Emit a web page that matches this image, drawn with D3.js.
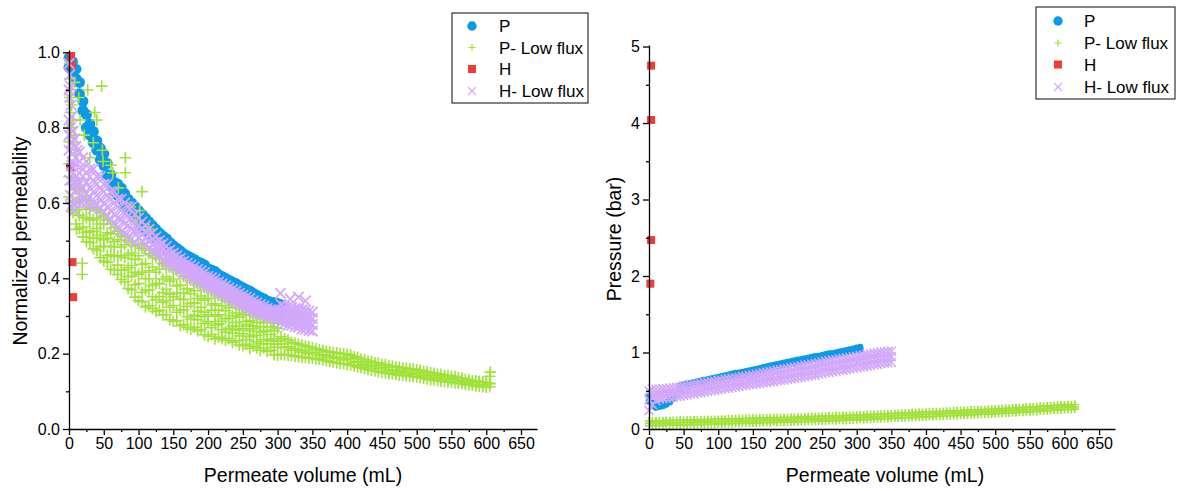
<!DOCTYPE html>
<html>
<head>
<meta charset="utf-8">
<script src="https://cdn.jsdelivr.net/npm/d3@7"></script>
<style>
  body { margin: 0; background: #fff; }
  svg { font-family: "Liberation Sans", Arial, sans-serif; }
</style>
</head>
<body>
<script>
// ---------- data ----------
var seriesNames = ["P", "P- Low flux", "H", "H- Low flux"];
var xTicks = [0, 50, 100, 150, 200, 250, 300, 350, 400, 450, 500, 550, 600, 650];
var xMinor = [25, 75, 125, 175, 225, 275, 325, 375, 425, 475, 525, 575, 625];
var permTicks = [0, 0.2, 0.4, 0.6, 0.8, 1.0];
var permMinor = [0.1, 0.3, 0.5, 0.7, 0.9];
var presTicks = [0, 1, 2, 3, 4, 5];
var presMinor = [0.5, 1.5, 2.5, 3.5, 4.5];

// left: normalized permeability
var lbX = [0,5,10,15,20,25,30,35,40,45,50,55,60,65,70,75,80,85,90,95,100,105,110,115,120,125,130,135,140,145,150,155,160,165,170,175,180,185,190,195,200,205,210,215,220,225,230,235,240,245,250,255,260,265,270,275,280,285,290,295,300,305];
var lbTop = [.985,.975,.955,.92,.87,.835,.81,.79,.765,.745,.73,.705,.675,.655,.65,.64,.625,.61,.60,.59,.58,.57,.56,.55,.54,.53,.52,.512,.505,.495,.487,.48,.473,.465,.46,.455,.45,.444,.44,.435,.425,.422,.418,.41,.405,.40,.395,.39,.386,.38,.375,.37,.366,.36,.355,.35,.346,.34,.337,.336,.333,.33];
var lbLow = [.96,.95,.93,.89,.845,.80,.78,.76,.74,.715,.70,.675,.645,.63,.62,.61,.595,.585,.57,.56,.55,.54,.53,.52,.51,.50,.49,.485,.475,.465,.46,.45,.445,.44,.43,.425,.42,.415,.41,.405,.40,.39,.385,.38,.375,.37,.365,.36,.355,.35,.345,.34,.335,.33,.325,.32,.315,.31,.31,.305,.30,.30];

var lgX = [0,5,10,15,20,25,30,35,40,45,50,55,60,65,70,75,80,85,90,95,100,105,110,115,120,125,130,135,140,145,150,155,160,165,170,175,180,185,190,195,200,205,210,215,220,225,230,235,240,245,250,255,260,265,270,275,280,285,290,295,300,305,310,315,320,325,330,335,340,345,350,355,360,365,370,375,380,385,390,395,400,405,410,415,420,425,430,435,440,445,450,455,460,465,470,475,480,485,490,495,500,505,510,515,520,525,530,535,540,545,550,555,560,565,570,575,580,585,590,595,600,605];
var lgHi = [.80,.70,.66,.64,.63,.615,.605,.59,.585,.575,.565,.555,.545,.535,.525,.515,.51,.50,.495,.485,
  .49,.48,.475,.465,.46,.455,.45,.44,.435,.43,.425,.42,.415,.405,.40,.395,.39,.385,.38,.375,.37,.365,.36,.355,.35,.345,.34,.335,.33,.325,.32,.315,.31,.305,.30,.297,.295,.29,.29,.285,.28,
  .245,.24,.236,.23,.228,.225,.223,.22,.218,.215,.213,.21,.209,.206,.205,.203,.202,.20,.20,.198,.196,.192,.19,.186,.184,.18,.179,.176,.175,.172,.171,.168,.167,.165,.164,.162,.161,.159,.159,.157,.156,.153,.152,.149,.148,.145,.145,.142,.142,.14,.139,.136,.135,.132,.131,.128,.128,.126,.125,.123,.121];
var lgQ3 = [.763,.665,.635,.604,.606,.583,.586,.556,.56,.544,.544,.521,.518,.497,.502,.483,.489,.462,.467,.451,.46,.437,.439,.42,.43,.416,.424,.398,.404,.393,.398,.38,.382,.362,.372,.359,.367,.346,.353,.342,.347,.329,.332,.316,.327,.314,.322,.301,.308,.297,.303,.285,.288,.273,.283,.271,.282,.261,.271,.261,.267];
var lgMid = [.704,.649,.602,.59,.562,.56,.555,.525,.532,.514,.502,.507,.485,.483,.46,.46,.455,.428,.434,.416,.411,.416,.399,.399,.381,.386,.386,.362,.371,.358,.351,.361,.344,.344,.326,.333,.334,.313,.323,.31,.303,.315,.299,.303,.286,.293,.294,.273,.283,.272,.266,.277,.261,.266,.249,.256,.259,.238,.251,.239,.233,
  .226,.216,.218,.209,.213,.209,.204,.209,.20,.203,.203,.195,.198,.19,.195,.19,.187,.191,.183,.186,.187,.177,.179,.171,.175,.169,.165,.169,.16,.162,.164,.155,.158,.151,.156,.152,.148,.154,.145,.148,.15,.141,.144,.136,.141,.137,.133,.138,.13,.133,.134,.125,.129,.121,.126,.122,.118,.124,.115,.118,.12];
var lgQ1 = [.67,.602,.581,.567,.536,.522,.525,.506,.507,.484,.484,.461,.462,.458,.435,.422,.422,.404,.406,.383,.386,.363,.369,.369,.351,.343,.351,.336,.341,.323,.328,.31,.316,.316,.298,.292,.302,.29,.298,.28,.285,.269,.276,.279,.263,.257,.267,.255,.263,.247,.253,.237,.245,.248,.232,.226,.237,.226,.234,.217,.225];
var lgLo = [.616,.583,.544,.532,.51,.497,.495,.478,.474,.455,.446,.443,.424,.422,.41,.397,.39,.373,.369,.35,.341,.338,.324,.327,.32,.312,.315,.303,.304,.29,.286,.288,.274,.277,.27,.265,.27,.26,.264,.25,.246,.251,.239,.244,.24,.235,.24,.23,.234,.223,.221,.225,.214,.22,.215,.209,.215,.206,.209,.197,.196,
  .198,.197,.196,.195,.193,.192,.19,.19,.188,.188,.186,.185,.183,.181,.179,.177,.176,.174,.173,.172,.17,.168,.165,.163,.16,.158,.156,.154,.152,.15,.149,.147,.146,.145,.143,.142,.141,.14,.139,.138,.137,.135,.133,.131,.13,.128,.127,.126,.125,.124,.122,.121,.12,.118,.117,.116,.114,.113,.112,.111,.112];
var lgOutX = [1,2,3,1,4,2,6,3,8,5,10,27,47,37,16,40,22,35,48,49,30,63,71,81,81,88,102,105,127,6,11,19,19,60,95,115,606,605,14,8];
var lgOutY = [.97,.93,.90,.88,.86,.84,.82,.80,.78,.76,.74,.90,.91,.84,.82,.82,.78,.76,.74,.71,.72,.68,.64,.72,.68,.59,.58,.63,.49,.575,.53,.44,.41,.70,.55,.53,.151,.14,.88,.92];

var lhX = [3, 4, 2, 5, 6];
var lhY = [0.99, 0.965, 0.695, 0.443, 0.35];

var lpX = [0,5,10,15,20,25,30,35,40,45,50,55,60,65,70,75,80,85,90,95,100,105,110,115,120,125,130,135,140,145,150,155,160,165,170,175,180,185,190,195,200,205,210,215,220,225,230,235,240,245,250,255,260,265,270,275,280,285,290,295,300,305,310,315,320,325,330,335,340,345,350];
var lpTop = [.90,.79,.75,.735,.72,.71,.69,.69,.67,.67,.65,.65,.63,.63,.61,.61,.60,.59,.59,.57,
  .56,.55,.54,.53,.52,.51,.50,.492,.485,.475,.467,.46,.453,.445,.44,.435,.43,.424,.42,.415,.405,.402,.398,.39,.385,.38,.375,.37,.366,.36,.355,.35,.346,.34,.335,.33,.326,.32,.317,.316,.313,
  .33,.325,.325,.322,.32,.318,.316,.315,.313,.31];
var lpM1 = [.82,.76,.72,.71,.69,.68,.67,.66,.65,.64,.63,.62,.61,.60,.59,.58,.57,.565,.56,.55,
  .541,.531,.524,.513,.505,.496,.488,.477,.471,.463,.456,.449,.443,.434,.429,.424,.419,.414,.409,.404,.396,.392,.388,.381,.376,.371,.366,.361,.357,.351,.346,.341,.337,.331,.326,.322,.318,.313,.311,.308,.305,
  .314,.31,.308,.306,.304,.302,.299,.298,.296,.293];
var lpM2 = [.78,.73,.70,.68,.67,.655,.64,.63,.62,.61,.60,.59,.58,.57,.56,.555,.545,.54,.53,.525,
  .525,.515,.508,.497,.49,.483,.476,.463,.457,.45,.444,.439,.433,.424,.419,.414,.409,.403,.399,.394,.387,.383,.378,.372,.367,.362,.357,.352,.347,.342,.337,.332,.327,.322,.317,.313,.311,.305,.304,.301,.296,
  .298,.295,.292,.291,.288,.286,.282,.282,.279,.277];
var lpBot = [.74,.70,.67,.655,.64,.625,.615,.60,.595,.585,.575,.565,.555,.545,.535,.525,.52,.51,.505,.495,
  .508,.498,.492,.481,.475,.469,.463,.448,.443,.438,.433,.428,.423,.413,.408,.403,.398,.393,.388,.383,.378,.373,.368,.363,.358,.353,.348,.343,.338,.333,.328,.323,.318,.313,.308,.305,.303,.298,.298,.293,.288,
  .282,.28,.275,.275,.272,.27,.265,.265,.262,.26];
var lpExX = [0,1,2,1,3,4,2,6,8,3,12,5,304,340,318,330,1,2,3,5,6,8,10,12,15,18,20,25,30,35,4,7,9,13];
var lpExY = [.97,.94,.91,.88,.86,.83,.80,.79,.77,.76,.74,.71,.36,.34,.345,.35,.66,.62,.59,.64,.60,.58,.63,.60,.62,.60,.615,.60,.595,.585,.70,.68,.655,.645];

// right: pressure (bar)
var rbX = [0,5,10,15,20,25,30,35,40,45,50,55,60,65,70,75,80,85,90,95,100,105,110,115,120,125,130,135,140,145,150,155,160,165,170,175,180,185,190,195,200,205,210,215,220,225,230,235,240,245,250,255,260,265,270,275,280,285,290,295,300,305];
var rbHi = [.42,.34,.31,.31,.33,.35,.38,.44,.50,.56,.58,.59,.60,.61,.62,.63,.64,.65,.66,.67,.68,.69,.70,.71,.72,.73,.735,.745,.755,.765,.775,.785,.795,.805,.815,.825,.835,.845,.855,.865,.875,.885,.895,.905,.91,.92,.93,.94,.95,.955,.965,.975,.985,.99,1.0,1.01,1.02,1.03,1.04,1.05,1.06,1.07];
var rbLo = [.36,.30,.28,.29,.30,.32,.35,.40,.46,.52,.55,.56,.57,.58,.59,.60,.61,.62,.63,.64,.65,.66,.67,.68,.69,.70,.705,.715,.725,.735,.745,.755,.765,.775,.785,.795,.805,.815,.825,.835,.845,.855,.865,.875,.88,.89,.90,.91,.92,.925,.935,.945,.955,.96,.97,.98,.99,1.0,1.01,1.02,1.03,1.04];

var rgX = [0,5,10,15,20,25,30,35,40,45,50,55,60,65,70,75,80,85,90,95,100,105,110,115,120,125,130,135,140,145,150,155,160,165,170,175,180,185,190,195,200,205,210,215,220,225,230,235,240,245,250,255,260,265,270,275,280,285,290,295,300,305,310,315,320,325,330,335,340,345,350,355,360,365,370,375,380,385,390,395,400,405,410,415,420,425,430,435,440,445,450,455,460,465,470,475,480,485,490,495,500,505,510,515,520,525,530,535,540,545,550,555,560,565,570,575,580,585,590,595,600,605,610,615];
var rgHi = [.105,.106,.104,.108,.107,.11,.109,.112,.111,.114,.115,.113,.117,.12,.118,.121,.12,.124,.122,.125,.125,.128,.127,.131,.13,.134,.133,.137,.136,.14,.14,.141,.143,.142,.145,.144,.147,.146,.149,.148,.15,.153,.152,.155,.155,.158,.158,.161,.161,.164,.165,.166,.169,.168,.172,.171,.175,.174,.178,.177,.18,.183,.183,.187,.187,.19,.193,.193,.197,.197,.20,.203,.203,.207,.207,.21,.213,.213,.217,.217,.22,.223,.223,.227,.227,.23,.233,.233,.237,.237,.24,.243,.243,.247,.247,.25,.253,.253,.257,.257,.26,.264,.264,.269,.269,.274,.274,.279,.279,.284,.285,.289,.29,.295,.296,.30,.302,.307,.308,.313,.315,.318,.316,.32];
var rgMid = [.075,.076,.076,.078,.077,.08,.079,.081,.082,.082,.085,.085,.087,.087,.09,.089,.091,.092,.092,.095,.095,.096,.099,.099,.101,.102,.104,.105,.107,.108,.11,.11,.113,.112,.115,.114,.117,.116,.119,.118,.12,.123,.122,.125,.125,.128,.128,.13,.132,.132,.135,.136,.137,.14,.14,.143,.143,.146,.146,.149,.15,.153,.153,.157,.157,.16,.163,.163,.167,.167,.17,.173,.173,.177,.177,.18,.183,.183,.187,.187,.19,.193,.193,.197,.197,.20,.203,.203,.207,.207,.21,.213,.213,.217,.217,.22,.223,.223,.227,.227,.23,.234,.234,.239,.239,.244,.244,.249,.249,.254,.255,.259,.26,.265,.266,.27,.272,.277,.278,.283,.285,.288,.286,.29];
var rgLo = [.045,.046,.046,.048,.047,.05,.049,.051,.052,.052,.055,.055,.057,.057,.06,.059,.061,.062,.062,.065,.065,.066,.069,.069,.071,.072,.074,.075,.077,.078,.08,.08,.083,.082,.085,.084,.087,.086,.089,.088,.09,.093,.092,.095,.095,.098,.098,.10,.102,.102,.105,.106,.107,.11,.11,.113,.113,.116,.116,.119,.12,.123,.123,.127,.127,.13,.133,.133,.137,.137,.14,.143,.143,.147,.147,.15,.153,.153,.157,.157,.16,.163,.163,.167,.167,.17,.173,.173,.177,.177,.18,.183,.183,.187,.187,.19,.193,.193,.197,.197,.20,.204,.204,.209,.209,.214,.214,.219,.219,.224,.225,.229,.23,.235,.236,.24,.242,.247,.248,.253,.255,.258,.256,.26];

var rhX = [3, 3, 3, 2];
var rhY = [4.75, 4.04, 2.47, 1.9];

var rpX = [0,5,10,15,20,25,30,35,40,45,50,55,60,65,70,75,80,85,90,95,100,105,110,115,120,125,130,135,140,145,150,155,160,165,170,175,180,185,190,195,200,205,210,215,220,225,230,235,240,245,250,255,260,265,270,275,280,285,290,295,300,305,310,315,320,325,330,335,340,345,350];
var rpHi = [.50,.52,.52,.52,.525,.53,.535,.54,.545,.55,.56,.565,.575,.58,.59,.595,.605,.61,.62,.625,.635,.64,.65,.655,.66,.67,.675,.685,.69,.70,.705,.715,.725,.735,.74,.75,.76,.77,.775,.785,.79,.80,.805,.815,.825,.835,.84,.85,.855,.865,.875,.885,.89,.90,.905,.915,.92,.93,.935,.945,.95,.96,.965,.975,.98,.99,.995,1.005,1.01,1.015,1.02];
var rpMid = [.38,.42,.44,.45,.46,.465,.47,.475,.485,.49,.50,.505,.515,.52,.53,.535,.545,.55,.56,.565,.575,.58,.59,.595,.60,.61,.615,.625,.63,.64,.645,.655,.66,.67,.675,.685,.69,.70,.705,.715,.72,.73,.735,.745,.75,.76,.765,.775,.78,.79,.80,.81,.815,.825,.83,.84,.845,.855,.86,.87,.875,.885,.89,.90,.905,.915,.92,.93,.935,.94,.945];
var rpLo = [.24,.32,.37,.39,.40,.405,.41,.415,.425,.43,.44,.445,.455,.46,.47,.475,.485,.49,.50,.505,.515,.52,.53,.535,.54,.55,.555,.565,.57,.58,.585,.59,.595,.605,.61,.615,.62,.63,.635,.64,.65,.655,.66,.67,.675,.685,.69,.70,.705,.715,.725,.735,.74,.75,.755,.765,.77,.78,.785,.795,.80,.81,.815,.825,.83,.84,.845,.855,.86,.865,.87];

// ---------- styling ----------
var colors = { P: "#0b9aea", PL: "#a0e23a", H: "#f23c3c", HL: "#d2a8fb" };

var width = 1178, height = 491;
var svg = d3.select("body").append("svg").attr("width", width).attr("height", height);

function zip(xs, ys) {
  return ys.map(function(y, i) { return [xs[i], y]; });
}

function plusPath(s) { return "M" + (-s) + ",0H" + s + "M0," + (-s) + "V" + s; }
function timesPath(s) { return "M" + (-s) + "," + (-s) + "L" + s + "," + s + "M" + (-s) + "," + s + "L" + s + "," + (-s); }

// draws one set of markers
function markers(g, pts, kind, size, color, sw, x, y) {
  var sel = g.append("g").selectAll("path").data(pts).enter();
  if (kind == "circle") {
    sel.append("circle").attr("cx", function(d){ return x(d[0]); }).attr("cy", function(d){ return y(d[1]); })
      .attr("r", size).attr("fill", color);
  } else if (kind == "square") {
    sel.append("rect").attr("x", function(d){ return x(d[0]) - size/2; }).attr("y", function(d){ return y(d[1]) - size/2; })
      .attr("width", size).attr("height", size).attr("fill", color);
  } else {
    var p = kind == "plus" ? plusPath(size) : timesPath(size);
    sel.append("path").attr("d", p)
      .attr("transform", function(d){ return "translate(" + x(d[0]) + "," + y(d[1]) + ")"; })
      .attr("fill", "none").attr("stroke", color).attr("stroke-width", sw);
  }
}

function panel(cfg) {
  var x = d3.scaleLinear().domain([0, 673]).range([cfg.left, cfg.right]);
  var y = d3.scaleLinear().domain(cfg.yDomain).range([429, cfg.top]);
  var g = svg.append("g");

  // series in legend order
  cfg.series.forEach(function(s) {
    s.sets.forEach(function(pts) { markers(g, pts, s.kind, s.size, s.color, s.sw, x, y); });
  });

  // axes
  g.append("g").attr("transform", "translate(0,429)")
    .call(d3.axisBottom(x).tickValues(xTicks).tickSize(6).tickPadding(3).tickSizeOuter(0));
  g.append("g").attr("transform", "translate(0,429)")
    .call(d3.axisBottom(x).tickValues(xMinor).tickSize(3).tickFormat("").tickSizeOuter(0))
    .select(".domain").remove();
  g.append("g").attr("transform", "translate(" + cfg.left + ",0)")
    .call(d3.axisLeft(y).tickValues(cfg.yTicks).tickFormat(d3.format(cfg.yFmt)).tickSize(6).tickPadding(3).tickSizeOuter(0));
  g.append("g").attr("transform", "translate(" + cfg.left + ",0)")
    .call(d3.axisLeft(y).tickValues(cfg.yMinor).tickSize(3).tickFormat("").tickSizeOuter(0))
    .select(".domain").remove();
  g.selectAll(".tick line, .domain").attr("stroke", "#000").attr("stroke-width", 1.3);
  g.selectAll(".tick text").attr("font-size", 16).attr("fill", "#000")
    .attr("font-family", "Liberation Sans, Arial, sans-serif");

  g.append("text").attr("x", cfg.xTitleX).attr("y", 482).attr("text-anchor", "middle")
    .attr("font-size", 19.5).text("Permeate volume (mL)");
  g.append("text").attr("transform", "translate(" + cfg.yTitleX + "," + cfg.yTitleY + ") rotate(-90)")
    .attr("text-anchor", "middle").attr("font-size", 19.5).text(cfg.yTitle);

  // legend
  var lg = g.append("g");
  lg.append("rect").attr("x", cfg.leg[0]).attr("y", cfg.leg[1]).attr("width", cfg.leg[2]).attr("height", cfg.leg[3])
    .attr("fill", "#fff").attr("stroke", "#333").attr("stroke-width", 1.2);
  var legKinds = [["circle", 4.7, colors.P, 0], ["plus", 3.6, colors.PL, 1.2], ["square", 8, colors.H, 0], ["times", 4, colors.HL, 1.1]];
  seriesNames.forEach(function(name, i) {
    var ry = cfg.legRows[i];
    var k = legKinds[i];
    var lx = function() { return cfg.legMarkX; };
    var ly = function() { return ry; };
    markers(lg, [[0, 0]], k[0], k[1], k[2], k[3], lx, ly);
    lg.append("text").attr("x", cfg.legTextX).attr("y", ry).attr("dy", "0.36em")
      .attr("font-size", 17).text(name);
  });
}

panel({
  left: 69, right: 537, top: 50, yDomain: [0, 1.006],
  yTicks: permTicks, yMinor: permMinor, yFmt: ".1f",
  xTitleX: 303, yTitleX: 27, yTitleY: 241, yTitle: "Normalized permeability",
  leg: [452, 13, 136, 90], legRows: [26, 47.5, 69, 91], legMarkX: 472, legTextX: 499,
  series: [
    { kind: "circle", size: 5.5, color: colors.P, sw: 0, sets: [zip(lbX, lbLow), zip(lbX, lbTop)] },
    { kind: "plus", size: 5.8, color: colors.PL, sw: 1.6, sets: [zip(lgX, lgLo), zip(lgX, lgQ1), zip(lgX, lgMid), zip(lgX, lgQ3), zip(lgX, lgHi), zip(lgOutX, lgOutY)] },
    { kind: "square", size: 8, color: colors.H, sw: 0, sets: [zip(lhX, lhY)] },
    { kind: "times", size: 5.2, color: colors.HL, sw: 1.8, sets: [zip(lpX, lpBot), zip(lpX, lpM2), zip(lpX, lpM1), zip(lpX, lpTop), zip(lpExX, lpExY)] }
  ]
});

panel({
  left: 649, right: 1115, top: 45, yDomain: [0, 5.02],
  yTicks: presTicks, yMinor: presMinor, yFmt: "d",
  xTitleX: 885, yTitleX: 621, yTitleY: 239, yTitle: "Pressure (bar)",
  leg: [1036, 7, 139, 92], legRows: [21, 43, 64.5, 87], legMarkX: 1058, legTextX: 1084,
  series: [
    { kind: "circle", size: 3.3, color: colors.P, sw: 0, sets: [zip(rbX, rbLo), zip(rbX, rbHi)] },
    { kind: "plus", size: 4, color: colors.PL, sw: 1.7, sets: [zip(rgX, rgLo), zip(rgX, rgMid), zip(rgX, rgHi)] },
    { kind: "square", size: 8, color: colors.H, sw: 0, sets: [zip(rhX, rhY)] },
    { kind: "times", size: 4.5, color: colors.HL, sw: 1.6, sets: [zip(rpX, rpLo), zip(rpX, rpMid), zip(rpX, rpHi)] }
  ]
});
</script>
</body>
</html>
